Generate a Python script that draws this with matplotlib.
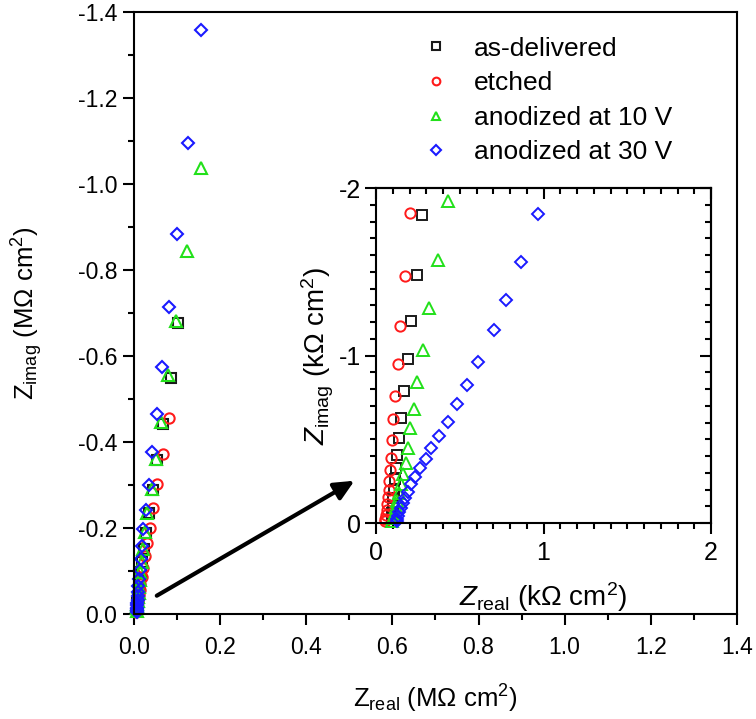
import numpy as np
import matplotlib
matplotlib.use("Agg")
import matplotlib.pyplot as plt
from matplotlib.ticker import MultipleLocator, FixedLocator, FormatStrFormatter

plt.rcParams['font.family'] = ['Liberation Sans', 'DejaVu Sans']
plt.rcParams['mathtext.fontset'] = 'custom'
plt.rcParams['mathtext.rm'] = 'Liberation Sans'
plt.rcParams['mathtext.it'] = 'Liberation Sans:italic'
plt.rcParams['axes.unicode_minus'] = False

# the data: main plot (MOhm cm2)
labels = ['as-delivered', 'etched', 'anodized at 10 V', 'anodized at 30 V']
colors = ['#1a1a1a', '#ff1a1a', '#22e01a', '#1a1aff']
markers = ['s', 'o', '^', 'D']

asdel_x = [0.103, 0.085, 0.068, 0.054, 0.044, 0.034, 0.028, 0.023, 0.019, 0.016,
           0.014, 0.012, 0.011, 0.010, 0.009, 0.008, 0.008, 0.007, 0.007, 0.006]
asdel_y = [-0.676, -0.550, -0.442, -0.358, -0.289, -0.234, -0.189, -0.152, -0.122, -0.098,
           -0.078, -0.062, -0.050, -0.040, -0.032, -0.025, -0.019, -0.014, -0.010, -0.006]

etch_x = [0.082, 0.067, 0.054, 0.044, 0.037, 0.030, 0.025, 0.021, 0.018, 0.015,
          0.013, 0.011, 0.010, 0.009, 0.008, 0.007, 0.006, 0.006, 0.005]
etch_y = [-0.457, -0.372, -0.302, -0.246, -0.201, -0.165, -0.134, -0.108, -0.087, -0.070,
          -0.056, -0.045, -0.036, -0.028, -0.022, -0.017, -0.012, -0.008, -0.005]

an10_x = [0.155, 0.122, 0.098, 0.080, 0.062, 0.051, 0.041, 0.031, 0.025, 0.021,
          0.018, 0.015, 0.013, 0.012, 0.011, 0.010, 0.009, 0.008, 0.007, 0.007, 0.006]
an10_y = [-1.037, -0.844, -0.682, -0.556, -0.447, -0.360, -0.291, -0.236, -0.190, -0.152,
          -0.122, -0.098, -0.078, -0.062, -0.050, -0.040, -0.031, -0.024, -0.018, -0.013, -0.008]

an30_x = [0.155, 0.125, 0.101, 0.082, 0.066, 0.053, 0.043, 0.036, 0.027, 0.022,
          0.018, 0.016, 0.013, 0.011, 0.010, 0.010, 0.009, 0.009, 0.008, 0.008,
          0.008, 0.007, 0.007, 0.007]
an30_y = [-1.358, -1.096, -0.884, -0.715, -0.575, -0.465, -0.376, -0.300, -0.243, -0.197,
          -0.158, -0.127, -0.102, -0.081, -0.065, -0.052, -0.042, -0.033, -0.026, -0.020,
          -0.015, -0.011, -0.007, -0.004]

# inset data (kOhm cm2)
asdel_xi = [0.274, 0.244, 0.210, 0.190, 0.164, 0.150, 0.138, 0.128, 0.120, 0.114,
            0.108, 0.104, 0.100, 0.098, 0.096]
asdel_yi = [-1.840, -1.483, -1.204, -0.978, -0.789, -0.625, -0.505, -0.405, -0.330, -0.260,
            -0.200, -0.150, -0.100, -0.060, -0.030]

etch_xi = [0.200, 0.170, 0.144, 0.130, 0.116, 0.104, 0.096, 0.090, 0.084, 0.080,
           0.076, 0.072, 0.068, 0.064, 0.060, 0.056, 0.052]
etch_yi = [-1.853, -1.473, -1.178, -0.948, -0.759, -0.619, -0.493, -0.389, -0.314, -0.250,
           -0.200, -0.154, -0.114, -0.080, -0.050, -0.026, -0.010]

an10_xi = [0.427, 0.367, 0.317, 0.280, 0.247, 0.224, 0.204, 0.188, 0.176, 0.160,
           0.148, 0.138, 0.128, 0.120, 0.112, 0.104, 0.098]
an10_yi = [-1.922, -1.573, -1.284, -1.032, -0.844, -0.679, -0.569, -0.449, -0.359, -0.290,
           -0.230, -0.180, -0.134, -0.094, -0.060, -0.030, -0.010]

an30_xi = [0.968, 0.868, 0.777, 0.702, 0.609, 0.543, 0.483, 0.427, 0.377, 0.327,
           0.297, 0.263, 0.234, 0.208, 0.190, 0.174, 0.160, 0.148, 0.140, 0.132,
           0.128, 0.124]
an30_yi = [-1.843, -1.561, -1.332, -1.152, -0.962, -0.825, -0.709, -0.605, -0.519, -0.449,
           -0.380, -0.326, -0.274, -0.230, -0.186, -0.150, -0.120, -0.090, -0.066, -0.044,
           -0.026, -0.014]

main_x = [asdel_x, etch_x, an10_x, an30_x]
main_y = [asdel_y, etch_y, an10_y, an30_y]
ins_x = [asdel_xi, etch_xi, an10_xi, an30_xi]
ins_y = [asdel_yi, etch_yi, an10_yi, an30_yi]

msizes = [7, 7.4, 8, 6.6]

fig = plt.figure(figsize=(7.56, 7.19), dpi=100)
ax = fig.add_axes([0.1772, 0.146, 0.7976, 0.8373])

for i in range(4):
    ax.plot(main_x[i], main_y[i], linestyle='none', marker=markers[i], ms=msizes[i],
            mfc='none', mec=colors[i], mew=1.5, label=labels[i], clip_on=False)

ax.set_xlim(0, 1.4)
ax.set_ylim(0, -1.4)
ax.xaxis.set_major_locator(MultipleLocator(0.2))
ax.xaxis.set_minor_locator(MultipleLocator(0.1))
ax.yaxis.set_major_locator(FixedLocator([0, -0.2, -0.4, -0.6, -0.8, -1.0, -1.2, -1.4]))
ax.yaxis.set_minor_locator(MultipleLocator(0.1))
ax.xaxis.set_major_formatter(FormatStrFormatter('%.1f'))
ax.yaxis.set_major_formatter(FormatStrFormatter('%.1f'))
ax.tick_params(which='both', direction='out', width=1.5, labelsize=16.5,
               top=False, right=False)
ax.tick_params(which='major', length=8, pad=4)
ax.tick_params(axis='x', which='major', pad=8)
ax.tick_params(which='minor', length=4.5)
for s in ax.spines.values():
    s.set_linewidth(1.5)

ax.set_xlabel(r'$\mathrm{Z}_{\mathrm{real}}$ (MΩ cm$^2$)', fontsize=18.5)
ax.set_ylabel(r'$\mathrm{Z}_{\mathrm{imag}}$ (MΩ cm$^2$)', fontsize=18.5)
ax.xaxis.set_label_coords(0.5, -0.115)
ax.yaxis.set_label_coords(-0.148, 0.5)

ax.annotate('', xy=(0.512, -0.31), xytext=(0.053, -0.0426),
            arrowprops=dict(arrowstyle='-|>,head_length=0.6,head_width=0.28',
                            lw=3, color='black', mutation_scale=20,
                            shrinkA=0, shrinkB=0))

leg = ax.legend(loc='upper left', bbox_to_anchor=(0.559, 0.949),
                bbox_transform=fig.transFigure, frameon=False, fontsize=19,
                markerscale=0.75, handlelength=1.0, handletextpad=0.95,
                labelspacing=0.4, borderpad=0, borderaxespad=0, numpoints=1)

# inset
axi = fig.add_axes([0.4974, 0.2726, 0.4431, 0.4659])
for i in range(4):
    axi.plot(ins_x[i], ins_y[i], linestyle='none', marker=markers[i], ms=msizes[i],
             mfc='none', mec=colors[i], mew=1.4, clip_on=False)
axi.set_xlim(0, 2)
axi.set_ylim(0, -2)
axi.xaxis.set_major_locator(FixedLocator([0, 1, 2]))
axi.xaxis.set_minor_locator(MultipleLocator(0.1))
axi.yaxis.set_major_locator(FixedLocator([0, -1, -2]))
axi.yaxis.set_minor_locator(MultipleLocator(0.1))
axi.xaxis.set_major_formatter(FormatStrFormatter('%d'))
axi.yaxis.set_major_formatter(FormatStrFormatter('%d'))
axi.tick_params(which='both', direction='out', width=1.5, labelsize=18,
                top=False, right=False)
axi.tick_params(which='major', length=8, pad=3)
axi.tick_params(axis='x', which='major', pad=5)
axi.tick_params(which='minor', length=4.5)
for s in axi.spines.values():
    s.set_linewidth(1.5)

# mirrored ticks pointing inward on top and right
top = axi.secondary_xaxis('top')
top.xaxis.set_major_locator(FixedLocator([0, 1, 2]))
top.xaxis.set_minor_locator(MultipleLocator(0.1))
top.tick_params(which='both', direction='in', width=1.5, labeltop=False)
top.tick_params(which='major', length=8)
top.tick_params(which='minor', length=4.5)
top.spines['top'].set_linewidth(1.5)
rgt = axi.secondary_yaxis('right')
rgt.yaxis.set_major_locator(FixedLocator([0, -1, -2]))
rgt.yaxis.set_minor_locator(MultipleLocator(0.1))
rgt.tick_params(which='both', direction='in', width=1.5, labelright=False)
rgt.tick_params(which='major', length=8)
rgt.tick_params(which='minor', length=4.5)
rgt.spines['right'].set_linewidth(1.5)

axi.set_xlabel(r'$\mathit{Z}_{\mathrm{real}}$ (kΩ cm$^2$)', fontsize=20)
axi.set_ylabel(r'$\mathit{Z}_{\mathrm{imag}}$ (kΩ cm$^2$)', fontsize=20)
axi.xaxis.set_label_coords(0.5, -0.17)
axi.yaxis.set_label_coords(-0.12, 0.5)

fig.savefig('out.png', dpi=100)
